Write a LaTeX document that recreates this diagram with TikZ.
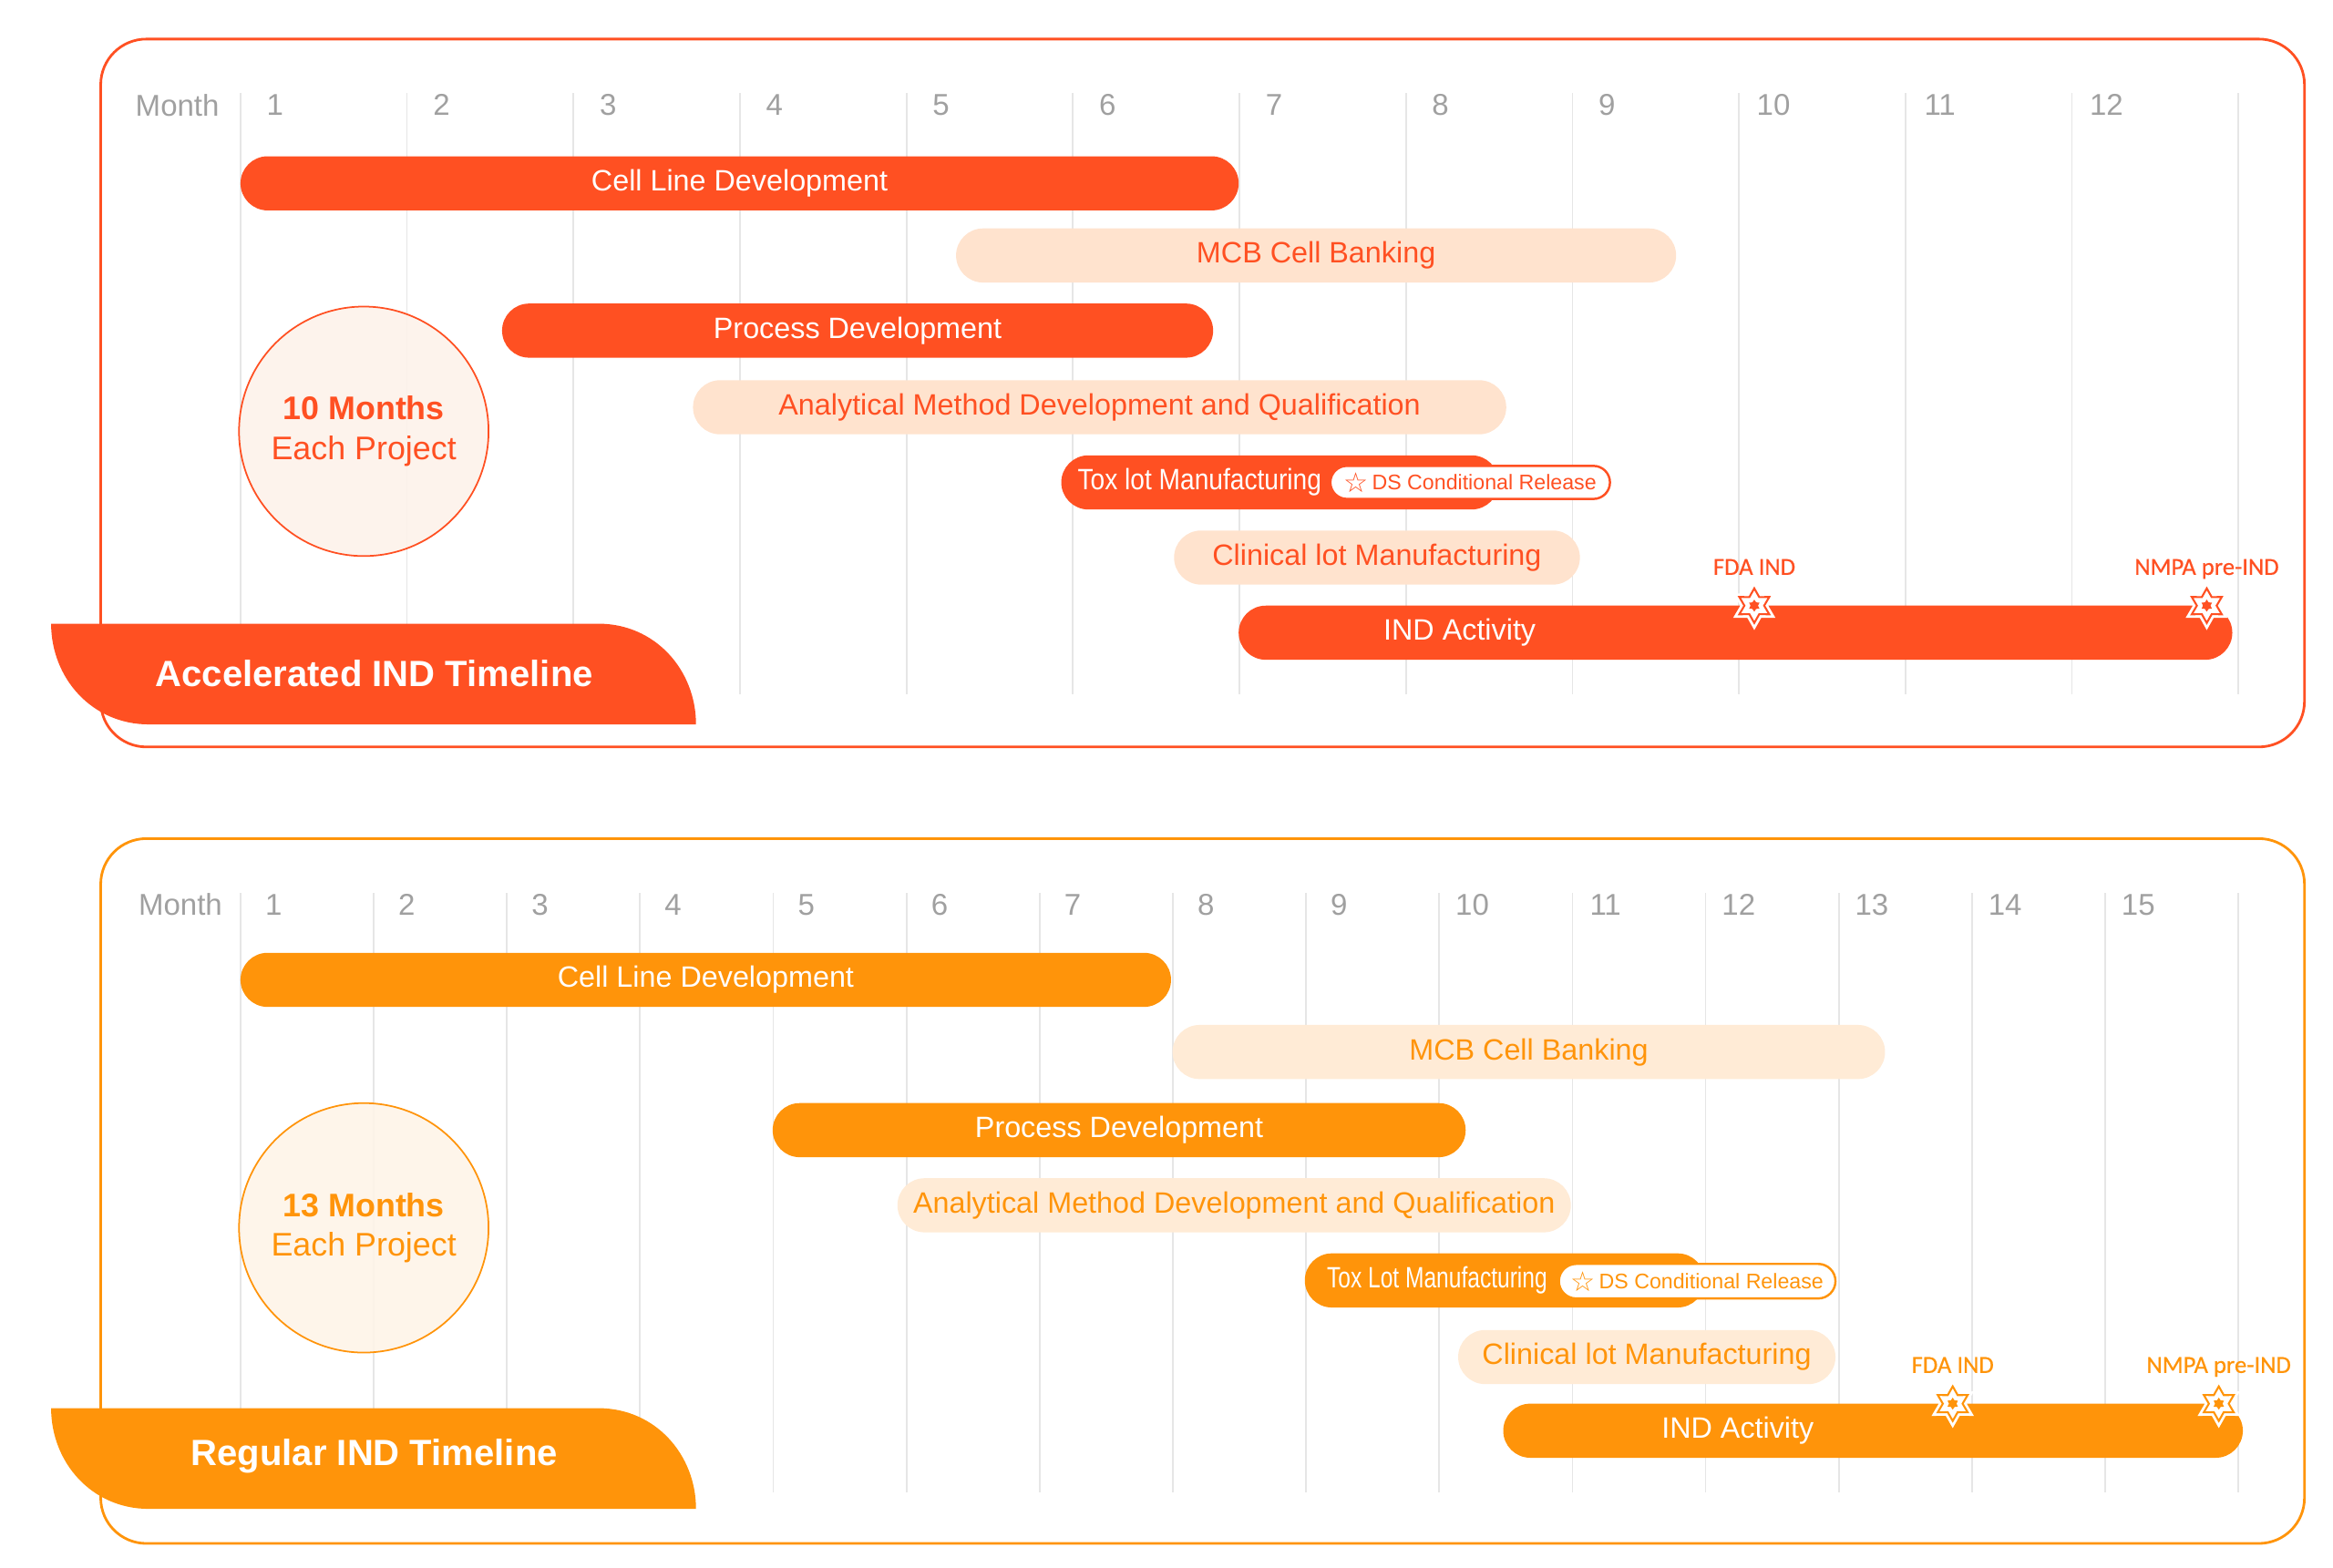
\documentclass[tikz,border=0pt]{standalone}
\usepackage{fontspec}
\setmainfont{Liberation Sans}
\newfontfamily\narrowfont{Liberation Sans}[FakeStretch=0.87]
\newfontfamily\narrowerfont{Liberation Sans}[FakeStretch=0.76]
\newfontfamily\symfont{DejaVu Sans}
\newfontfamily\markfont{Carlito}[FakeBold=0.5]
\usetikzlibrary{positioning,shapes.misc,shapes.geometric}

\definecolor{accmain}{RGB}{255,80,34}
\definecolor{acclight}{RGB}{255,227,206}
\definecolor{acccircle}{RGB}{253,242,234}
\definecolor{regmain}{RGB}{255,148,10}
\definecolor{reglight}{RGB}{255,235,214}
\definecolor{regcircle}{RGB}{254,244,232}
\definecolor{gridgray}{RGB}{230,230,230}
\definecolor{monthgray}{RGB}{160,160,160}

\def\pxu{0.165mm}

\tikzset{
  panel/.style={draw=#1, line width=0.8pt, rounded corners=5mm},
  gridline/.style={draw=gridgray, line width=0.5pt},
  monthnum/.style={text=monthgray, inner sep=0pt, font=\fontsize{9.4}{11}\selectfont},
  bar/.style={rounded rectangle, inner sep=0pt, minimum height=36*\pxu, font=\fontsize{9.2}{11}\selectfont},
  darkbar/.style={bar, fill=#1, text=white},
  lightbar/.style 2 args={bar, fill=#1, text=#2},
  barlabel/.style={text=white, inner sep=0pt, font=\fontsize{9.2}{11}\selectfont},
  badge/.style={rounded rectangle, draw=#1, line width=0.7pt, fill=white, text=#1, inner sep=0pt, text height=1.66mm, text depth=0mm, minimum height=22*\pxu, font=\fontsize{6.6}{8}\selectfont},
  milestone/.style={star, star points=6, star point ratio=1.75, minimum size=23*\pxu, inner sep=0pt, draw=#1, line width=0.6pt, fill=white, preaction={draw=white, line width=2.2pt}},
  milecore/.style={star, star points=6, star point ratio=1.6, minimum size=8*\pxu, inner sep=0pt, fill=#1},
  marklabel/.style={text=#1, inner sep=0pt, text depth=0.5mm, font=\markfont\fontsize{7.6}{9}\selectfont},
  projcircle/.style 2 args={circle, minimum size=166*\pxu, inner sep=0pt, fill=#1, fill opacity=0.9, text opacity=1, draw=#2, line width=0.5pt, text=#2, align=center, font=\fontsize{10.2}{12.4}\selectfont},
  tabtext/.style={text=white, inner sep=0pt, font=\bfseries\fontsize{11.4}{13}\selectfont}
}

\newcommand{\badgestar}{\raisebox{-0.25mm}[0pt][0pt]{\symfont\fontsize{8.6}{8}\selectfont ☆}}

\begin{document}
\begin{tikzpicture}[x=0.165mm, y=-0.165mm]
  \useasboundingbox (0,0) rectangle (1552,1043);

  % accelerated timeline
  \draw[panel=accmain] (67,26) rectangle (1533,497);
  \foreach \i in {0,...,12}
    \draw[gridline] ({160+110.75*\i},62) -- ({160+110.75*\i},462);
  \node[monthnum] (monthA) at (118,70) {Month};
  \foreach \m in {1,...,12}
    \node[monthnum] (mA\m) at ({160+110.75*(\m-1)+23},70) {\m};

  \node[projcircle={acccircle}{accmain}] (durA) at (242,287) {\textbf{10 Months}\\Each Project};

  \node[darkbar=accmain, minimum width=664*\pxu] (cellA) at (492,122) {Cell Line Development};
  \node[lightbar={acclight}{accmain}, minimum width=479*\pxu] (mcbA) at (875.5,170) {MCB Cell Banking};
  \node[darkbar=accmain, minimum width=473*\pxu] (procA) at (570.5,220) {Process Development};
  \node[lightbar={acclight}{accmain}, minimum width=541*\pxu] (anaA) at (731.5,271) {Analytical Method Development and Qualification};
  \node[darkbar=accmain, minimum width=291*\pxu] (toxA) at (851.5,321) {};
  \node[barlabel] (toxAlbl) at (798,321) {\narrowfont Tox lot Manufacturing};
  \node[badge=accmain, minimum width=186*\pxu] (relA) at (978,321) {\badgestar\,DS Conditional Release};
  \node[lightbar={acclight}{accmain}, minimum width=270*\pxu] (clinA) at (916,371) {Clinical lot Manufacturing};
  \node[darkbar=accmain, minimum width=661*\pxu] (indA) at (1154.5,421) {};
  \node[barlabel] (indAlbl) at (971,421) {IND Activity};

  \node[milestone=accmain] (fdaA) at (1167,403) {};
  \node[milecore=accmain] at (fdaA) {};
  \node[marklabel=accmain] (fdaAlbl) [above=0.7mm of fdaA] {FDA IND};
  \node[milestone=accmain] (nmpaA) at (1468,403) {};
  \node[milecore=accmain] at (nmpaA) {};
  \node[marklabel=accmain] (nmpaAlbl) [above=0.7mm of nmpaA] {NMPA pre-IND};

  \fill[accmain] (34,415) -- (398,415) .. controls (436,415) and (463,446) .. (463,482)
    -- (99,482) .. controls (61,482) and (34,451) .. (34,415) -- cycle;
  \node[tabtext] (tabA) at (249,448) {Accelerated IND Timeline};

  % regular timeline
  \draw[panel=regmain] (67,558) rectangle (1533,1027);
  \foreach \i in {0,...,15}
    \draw[gridline] ({160+88.6*\i},594) -- ({160+88.6*\i},993);
  \node[monthnum] (monthB) at (120,602) {Month};
  \foreach \m in {1,...,15}
    \node[monthnum] (mB\m) at ({160+88.6*(\m-1)+22},602) {\m};

  \node[projcircle={regcircle}{regmain}] (durB) at (242,817) {\textbf{13 Months}\\Each Project};

  \node[darkbar=regmain, minimum width=619*\pxu] (cellB) at (469.5,652) {Cell Line Development};
  \node[lightbar={reglight}{regmain}, minimum width=474*\pxu] (mcbB) at (1017,700) {MCB Cell Banking};
  \node[darkbar=regmain, minimum width=461*\pxu] (procB) at (744.5,752) {Process Development};
  \node[lightbar={reglight}{regmain}, minimum width=448*\pxu] (anaB) at (821,802) {Analytical Method Development and Qualification};
  \node[darkbar=regmain, minimum width=266*\pxu] (toxB) at (1001,852) {};
  \node[barlabel] (toxBlbl) at (956,852) {\narrowerfont Tox Lot Manufacturing};
  \node[badge=regmain, minimum width=184*\pxu, minimum height=23*\pxu] (relB) at (1129,852.5) {\badgestar\,DS Conditional Release};
  \node[lightbar={reglight}{regmain}, minimum width=251*\pxu] (clinB) at (1095.5,903) {Clinical lot Manufacturing};
  \node[darkbar=regmain, minimum width=492*\pxu] (indB) at (1246,952) {};
  \node[barlabel] (indBlbl) at (1156,952) {IND Activity};

  \node[milestone=regmain] (fdaB) at (1299,934) {};
  \node[milecore=regmain] at (fdaB) {};
  \node[marklabel=regmain] (fdaBlbl) [above=0.7mm of fdaB] {FDA IND};
  \node[milestone=regmain] (nmpaB) at (1476,934) {};
  \node[milecore=regmain] at (nmpaB) {};
  \node[marklabel=regmain] (nmpaBlbl) [above=0.7mm of nmpaB] {NMPA pre-IND};

  \fill[regmain] (34,937) -- (398,937) .. controls (436,937) and (463,968) .. (463,1004)
    -- (99,1004) .. controls (61,1004) and (34,973) .. (34,937) -- cycle;
  \node[tabtext] (tabB) at (249,969) {Regular IND Timeline};
\end{tikzpicture}
\end{document}
